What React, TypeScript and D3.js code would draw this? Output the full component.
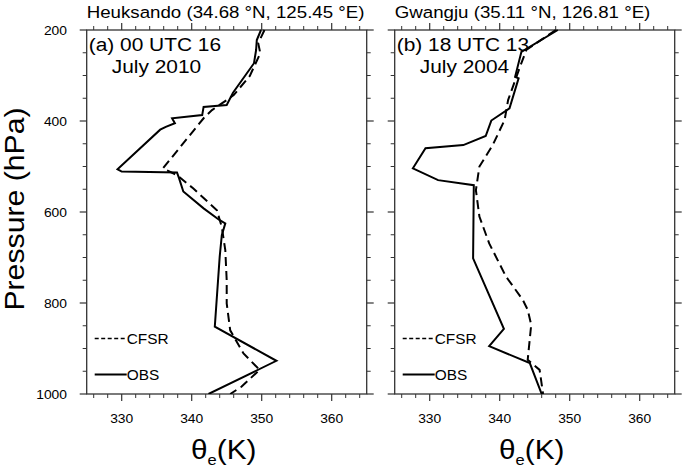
import React from "react"
import * as d3 from "d3"

// pressure levels (hPa) and theta-e (K)
const obsAP = [200, 222, 244, 273, 338, 365, 369, 387, 394, 405, 413, 419, 506, 511, 513, 526, 555, 592, 618, 625, 651, 698, 852, 927, 1000]
const obsAT = [349.9, 349.3, 349.2, 348.9, 345.9, 345.0, 341.7, 341.5, 337.2, 337.6, 336.3, 335.5, 329.4, 330.0, 337.9, 338.2, 338.8, 341.7, 344.0, 344.8, 344.3, 344.0, 343.3, 352.1, 342.4]
const cfsrAP = [200, 229, 251, 301, 343, 354, 376, 394, 504, 519, 548, 596, 633, 684, 750, 801, 860, 911, 947, 984, 1000]
const cfsrAT = [350.4, 349.5, 349.8, 348.3, 346.0, 345.0, 342.9, 341.7, 335.9, 337.9, 340.2, 343.6, 344.3, 344.8, 345.0, 345.0, 345.5, 347.4, 349.7, 347.1, 345.5]

const obsBP = [200, 248, 303, 306, 372, 399, 433, 453, 460, 504, 530, 541, 702, 857, 895, 932, 1000]
const obsBT = [348.3, 343.1, 342.2, 342.7, 341.4, 338.8, 338.0, 334.8, 329.4, 327.6, 331.2, 336.3, 336.2, 340.6, 338.5, 344.3, 346.0]
const cfsrBP = [200, 244, 281, 354, 398, 453, 500, 552, 610, 669, 742, 793, 815, 848, 925, 947, 1000]
const cfsrBT = [348.0, 343.8, 342.9, 341.2, 340.7, 339.0, 337.1, 336.6, 337.1, 338.5, 340.9, 343.3, 344.0, 344.5, 344.0, 345.7, 346.2]

const pTicks = [200, 400, 600, 800, 1000]
const tTicks = [330, 340, 350, 360]
const titles = ["Heuksando (34.68 °N, 125.45 °E)", "Gwangju (35.11 °N, 126.81 °E)"]
const labels1 = ["(a) 00 UTC 16", "(b) 18 UTC 13"]
const labels2 = ["July 2010", "July 2004"]

const W = 685
const H = 468
const top = 30
const ph = 364
const pw = 280
const lefts = [86.7, 394.7]
const font = "'Liberation Sans', Arial, Helvetica, sans-serif"
const sx = 1.1

const T = ({ x, y, size, anchor = "start", children }: any) => (
  <g transform={`translate(${x},${y}) scale(${sx},1)`}>
    <text x={0} y={0} fontSize={size} textAnchor={anchor} fontFamily={font} fill="#000">
      {children}
    </text>
  </g>
)

const Panel = ({ i, obsP, obsT, cfP, cfT }: any) => {
  const x0 = lefts[i]
  const x = d3.scaleLinear().domain([325, 365]).range([x0, x0 + pw])
  const y = d3.scaleLinear().domain([200, 1000]).range([top, top + ph])
  const line = d3.line<[number, number]>().x((d) => x(d[1])).y((d) => y(d[0]))
  const obs = d3.zip(obsP, obsT) as [number, number][]
  const cf = d3.zip(cfP, cfT) as [number, number][]
  const xMinor = d3.range(326, 365, 2).filter((v) => v % 10 !== 0)
  const yMinor = d3.range(250, 1000, 50).filter((v) => v % 200 !== 0)
  const bot = top + ph
  const right = x0 + pw
  const tick = "#333"
  const legX = x0 + 8
  return (
    <g>
      <clipPath id={"clip" + i}>
        <rect x={x0} y={top - 2} width={pw} height={ph + 2} />
      </clipPath>
      {/* ticks, outward on all four sides */}
      {tTicks.map((t) => (
        <g key={"xt" + t} stroke={tick} strokeWidth={1.2}>
          <line x1={x(t)} x2={x(t)} y1={bot} y2={bot + 7} />
          <line x1={x(t)} x2={x(t)} y1={top} y2={top - 7} />
        </g>
      ))}
      {xMinor.map((t) => (
        <g key={"xm" + t} stroke={tick} strokeWidth={1}>
          <line x1={x(t)} x2={x(t)} y1={bot} y2={bot + 4} />
          <line x1={x(t)} x2={x(t)} y1={top} y2={top - 4} />
        </g>
      ))}
      {pTicks.map((p) => (
        <g key={"yt" + p} stroke={tick} strokeWidth={1.2}>
          <line x1={x0} x2={x0 - 7} y1={y(p)} y2={y(p)} />
          <line x1={right} x2={right + 7} y1={y(p)} y2={y(p)} />
        </g>
      ))}
      {yMinor.map((p) => (
        <g key={"ym" + p} stroke={tick} strokeWidth={1}>
          <line x1={x0} x2={x0 - 4} y1={y(p)} y2={y(p)} />
          <line x1={right} x2={right + 4} y1={y(p)} y2={y(p)} />
        </g>
      ))}
      <rect x={x0} y={top} width={pw} height={ph} fill="none" stroke={tick} strokeWidth={1.3} />
      {tTicks.map((t) => (
        <T key={"xl" + t} x={x(t)} y={423} size={12.6} anchor="middle">{t}</T>
      ))}
      {i === 0 &&
        pTicks.map((p) => (
          <T key={"yl" + p} x={67} y={y(p) + 4.5} size={12.6} anchor="end">{p}</T>
        ))}
      <g clipPath={`url(#clip${i})`} fill="none" stroke="#000" strokeWidth={2} strokeLinejoin="miter">
        <path d={line(cf) ?? ""} strokeDasharray="9,5" />
        <path d={line(obs) ?? ""} />
      </g>
      <T x={x0} y={18} size={17}>{titles[i]}</T>
      <T x={x0 + 2} y={51} size={19}>{labels1[i]}</T>
      <T x={x0 + 25} y={73} size={19}>{labels2[i]}</T>
      {/* legend */}
      <line x1={legX} x2={legX + 32} y1={338.5} y2={338.5} stroke="#000" strokeWidth={1.5} strokeDasharray="4,2.5" />
      <T x={legX + 32} y={343.5} size={14}>CFSR</T>
      <line x1={legX} x2={legX + 32} y1={374.5} y2={374.5} stroke="#000" strokeWidth={2} />
      <T x={legX + 32} y={379.5} size={14}>OBS</T>
      <g transform={`translate(${x0 + pw / 2 - 3},459) scale(${sx},1)`}>
        <text x={0} y={0} textAnchor="middle" fontFamily={font} fontSize={27}>
          θ<tspan fontSize={15} dy={6}>e</tspan>
          <tspan dy={-6}>(K)</tspan>
        </text>
      </g>
    </g>
  )
}

export default function App() {
  return (
    <svg width={W} height={H} style={{ position: "absolute", left: 0, top: 0, background: "#fff" }}>
      <rect width={W} height={H} fill="#fff" />
      <Panel i={0} obsP={obsAP} obsT={obsAT} cfP={cfsrAP} cfT={cfsrAT} />
      <Panel i={1} obsP={obsBP} obsT={obsBT} cfP={cfsrBP} cfT={cfsrBT} />
      <g transform={`translate(24,${top + ph / 2 - 3}) rotate(-90) scale(1.08,1)`}>
        <text x={0} y={0} textAnchor="middle" fontFamily={font} fontSize={28}>
          Pressure (hPa)
        </text>
      </g>
    </svg>
  )
}
